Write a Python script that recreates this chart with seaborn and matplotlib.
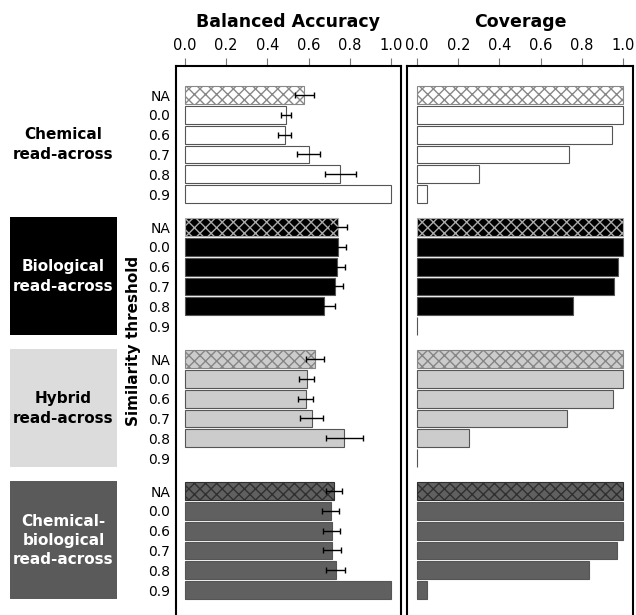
import numpy as np
import pandas as pd
import matplotlib
matplotlib.use("Agg")
import matplotlib.pyplot as plt
import matplotlib.transforms as mtransforms
from matplotlib.patches import Rectangle
import seaborn as sns

# values
thresholds = ["NA", "0.0", "0.6", "0.7", "0.8", "0.9"]
groups = ["Chemical", "Biological", "Hybrid", "Chemical-biological"]
group_labels = ["Chemical\nread-across", "Biological\nread-across",
                "Hybrid\nread-across", "Chemical-\nbiological\nread-across"]

chem_acc = [0.58, 0.49, 0.485, 0.60, 0.755, 1.0]
chem_err = [0.044, 0.024, 0.032, 0.055, 0.074, np.nan]
chem_cov = [1.0, 1.0, 0.945, 0.74, 0.30, 0.047]

bio_acc = [0.744, 0.744, 0.739, 0.73, 0.675, np.nan]
bio_err = [0.041, 0.04, 0.04, 0.037, 0.053, np.nan]
bio_cov = [1.0, 1.0, 0.977, 0.956, 0.759, 0.0]

hyb_acc = [0.631, 0.59, 0.587, 0.615, 0.773, np.nan]
hyb_err = [0.044, 0.036, 0.036, 0.055, 0.09, np.nan]
hyb_cov = [1.0, 1.0, 0.953, 0.727, 0.252, 0.0]

cb_acc = [0.723, 0.707, 0.712, 0.715, 0.731, 1.0]
cb_err = [0.038, 0.04, 0.04, 0.043, 0.045, np.nan]
cb_cov = [1.0, 1.0, 1.0, 0.969, 0.836, 0.047]

bar_colors = {"Chemical": "#ffffff", "Biological": "#000000",
              "Hybrid": "#cccccc", "Chemical-biological": "#606060"}
box_colors = ["#ffffff", "#000000", "#dcdcdc", "#5a5a5a"]
text_colors = ["black", "white", "black", "white"]
hatch_colors = ["#888888", "#aaaaaa", "#858585", "#303030"]

# build long table, groups separated by a gap of 2/3 row
group_step = 20 / 3
rows = []
for g, (name, acc, err, cov) in enumerate(zip(
        groups,
        [chem_acc, bio_acc, hyb_acc, cb_acc],
        [chem_err, bio_err, hyb_err, cb_err],
        [chem_cov, bio_cov, hyb_cov, cb_cov])):
    for i, t in enumerate(thresholds):
        rows.append({"group": name, "threshold": t, "pos": g * group_step + i,
                     "accuracy": acc[i], "err": err[i], "coverage": cov[i]})
df = pd.DataFrame(rows)

sns.set_style("white")
plt.rcParams["font.family"] = ["DejaVu Sans"]
plt.rcParams["hatch.linewidth"] = 1.0
plt.rcParams["text.color"] = "black"
plt.rcParams["xtick.labelcolor"] = "black"
plt.rcParams["ytick.labelcolor"] = "black"

fig = plt.figure(figsize=(6.36, 6.15), dpi=100)
ax1 = fig.add_axes([176 / 636, 0, 225 / 636, 549 / 615])
ax2 = fig.add_axes([407 / 636, 0, 226 / 636, 549 / 615])

sns.barplot(data=df.dropna(subset=["accuracy"]), x="accuracy", y="pos",
            hue="group", palette=bar_colors, orient="y", native_scale=True,
            dodge=False, errorbar=None, width=0.9, edgecolor="#555555",
            linewidth=0.8, legend=False, ax=ax1)
sns.barplot(data=df, x="coverage", y="pos", hue="group", palette=bar_colors,
            orient="y", native_scale=True, dodge=False, errorbar=None,
            width=0.9, edgecolor="#555555", linewidth=0.8, legend=False, ax=ax2)

# error bars on balanced accuracy
eb = df.dropna(subset=["err"])
ax1.errorbar(eb["accuracy"], eb["pos"], xerr=eb["err"], fmt="none",
             ecolor="black", elinewidth=1, capsize=2.5, capthick=1)

# hatch the "NA" bars
na_pos = [g * group_step for g in range(len(groups))]
for ax in (ax1, ax2):
    for p in ax.patches:
        yc = p.get_y() + p.get_height() / 2
        for g, npos in enumerate(na_pos):
            if abs(yc - npos) < 0.01:
                p.set_hatch("xxx")
                p.set_edgecolor(hatch_colors[g])

for ax, title, xlo in ((ax1, "Balanced Accuracy", -0.044), (ax2, "Coverage", -0.049)):
    ax.set_xlim(xlo, 1.049)
    ax.set_ylim(26.26, -1.47)
    ax.set_xticks(np.arange(0, 1.01, 0.2))
    ax.set_xticklabels([f"{v:.1f}" for v in np.arange(0, 1.01, 0.2)])
    ax.xaxis.tick_top()
    ax.tick_params(axis="x", top=True, bottom=False, labeltop=True,
                   labelbottom=False, length=6, width=0.8, color="#777777",
                   pad=3, labelsize=10.5)
    ax.set_xlabel("")
    ax.set_ylabel("")
    ax.set_title(title, fontsize=12.5, fontweight="bold", pad=8, color="black")
    for side in ("left", "right", "top"):
        ax.spines[side].set_visible(True)
        ax.spines[side].set_color("black")
        ax.spines[side].set_linewidth(1.5)
    ax.spines["bottom"].set_visible(False)

tick_pos = df["pos"].tolist()
ax1.set_yticks(tick_pos)
ax1.set_yticklabels(df["threshold"].tolist())
ax1.tick_params(axis="y", length=0, pad=4, labelsize=10)
ax2.set_yticks([])

ax1.text(-0.19, 0.5, "Similarity threshold", transform=ax1.transAxes,
         rotation=90, ha="center", va="center", fontsize=11, fontweight="bold")

# group label boxes on the left
trans = mtransforms.blended_transform_factory(fig.transFigure, ax1.transData)
for g, label in enumerate(group_labels):
    top = na_pos[g] - 0.5
    fig.add_artist(Rectangle((10 / 636, top), 107 / 636, 5.95,
                             transform=trans, facecolor=box_colors[g],
                             edgecolor="none", clip_on=False))
    fig.text(63.5 / 636, na_pos[g] + 2.5, label, transform=trans,
             ha="center", va="center", fontsize=11, fontweight="bold",
             color=text_colors[g], linespacing=1.35)

fig.savefig("out.png", dpi=100)
